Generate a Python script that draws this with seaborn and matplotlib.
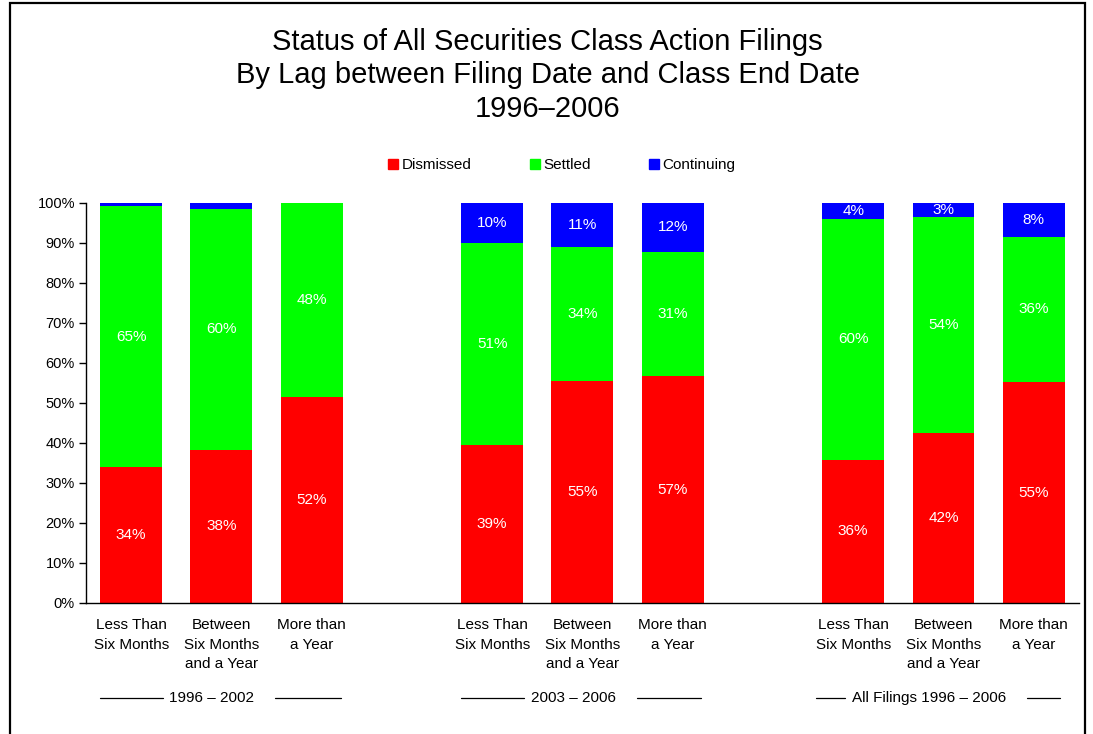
import matplotlib
matplotlib.use("Agg")
import matplotlib.pyplot as plt
import matplotlib.transforms as mtransforms
from matplotlib.patches import Patch, Rectangle
import numpy as np
import pandas as pd
import seaborn as sns

# ---------------------------------------------------------
# Data (percent of filings)
# ---------------------------------------------------------
categories = [
    "Less Than\nSix Months",
    "Between\nSix Months\nand a Year",
    "More than\na Year",
] * 3
groups = ["1996 \u2013 2002", "2003 \u2013 2006", "All Filings 1996 \u2013 2006"]
positions = [0, 1, 2, 4, 5, 6, 8, 9, 10]

dismissed = [34.0, 38.3, 51.6, 39.4, 55.4, 56.7, 35.8, 42.4, 55.2]
settled = [65.2, 60.2, 48.4, 50.6, 33.6, 31.1, 60.2, 54.2, 36.4]
continuing = [0.8, 1.5, 0.0, 10.0, 11.0, 12.2, 4.0, 3.4, 8.4]

df = pd.DataFrame(
    {
        "pos": positions,
        "category": categories,
        "dismissed": dismissed,
        "settled": settled,
        "continuing": continuing,
    }
)
df["top_dismissed"] = df["dismissed"]
df["top_settled"] = df["dismissed"] + df["settled"]
df["top_continuing"] = df["top_settled"] + df["continuing"]

RED, GREEN, BLUE = "#FF0000", "#00FF00", "#0000FF"

sns.set_theme(style="white")
plt.rcParams["font.family"] = ["Liberation Sans", "DejaVu Sans"]
plt.rcParams["text.color"] = "black"
plt.rcParams["xtick.color"] = "black"
plt.rcParams["ytick.color"] = "black"

fig = plt.figure(figsize=(10.93, 7.34), dpi=100)
ax = fig.add_axes([0.0787, 0.1785, 0.9083, 0.545])

bar_w = 0.685
for col, color in [
    ("top_continuing", BLUE),
    ("top_settled", GREEN),
    ("top_dismissed", RED),
]:
    sns.barplot(
        data=df,
        x="pos",
        y=col,
        native_scale=True,
        color=color,
        width=bar_w,
        errorbar=None,
        linewidth=0,
        saturation=1,
        ax=ax,
    )

# segment labels
for _, r in df.iterrows():
    segs = [
        (0, r["dismissed"]),
        (r["top_dismissed"], r["settled"]),
        (r["top_settled"], r["continuing"]),
    ]
    for base, val in segs:
        if val >= 2:
            ax.text(
                r["pos"], base + val / 2, f"{round(val):.0f}%",
                ha="center", va="center", color="white", fontsize=11,
            )

ax.set_xlim(-0.5, 10.5)
ax.set_ylim(0, 100)
ax.set_yticks(np.arange(0, 101, 10))
ax.set_yticklabels([f"{v}%" for v in range(0, 101, 10)], fontsize=10.5)
ax.set_xticks(positions)
ax.set_xticklabels(categories, fontsize=11, linespacing=1.5, va="top")
ax.tick_params(axis="x", length=0, pad=11)
ax.tick_params(axis="y", length=5, width=1, color="black", direction="out", pad=3,
               left=True)
ax.set_xlabel("")
ax.set_ylabel("")
for s in ["top", "right"]:
    ax.spines[s].set_visible(False)
for s in ["left", "bottom"]:
    ax.spines[s].set_color("black")
    ax.spines[s].set_linewidth(1)

# group labels with lines
trans = mtransforms.blended_transform_factory(ax.transData, ax.transAxes)
gy = -0.238
group_lines = [
    [(-0.35, 0.35), (1.59, 2.33)],
    [(3.66, 4.35), (5.6, 6.31)],
    [(7.59, 7.91), (9.93, 10.29)],
]
for g, centre, lines in zip(groups, [0.89, 4.9, 8.84], group_lines):
    ax.text(centre, gy, g, transform=trans, ha="center", va="center", fontsize=11)
    for x0, x1 in lines:
        ax.plot([x0, x1], [gy, gy], transform=trans, color="black", lw=0.9,
                clip_on=False)

# legend
handles = [Patch(color=RED, label="Dismissed"),
           Patch(color=GREEN, label="Settled"),
           Patch(color=BLUE, label="Continuing")]
fig.legend(
    handles=handles, loc="center", bbox_to_anchor=(0.514, 0.775), ncol=3,
    frameon=False, fontsize=11, handlelength=0.65, handleheight=0.65,
    handletextpad=0.25, columnspacing=3.8,
)

# title
fig.text(
    0.501, 0.8975,
    "Status of All Securities Class Action Filings\n"
    "By Lag between Filing Date and Class End Date\n1996\u20132006",
    ha="center", va="center", fontsize=21, linespacing=1.26,
)

# outer border
fig.patches.append(
    Rectangle((10 / 1093, -0.02), 1075 / 1093, 1.02 - 3 / 734,
              transform=fig.transFigure, fill=False, edgecolor="black", lw=1.6)
)

fig.savefig("out.png", dpi=100)
